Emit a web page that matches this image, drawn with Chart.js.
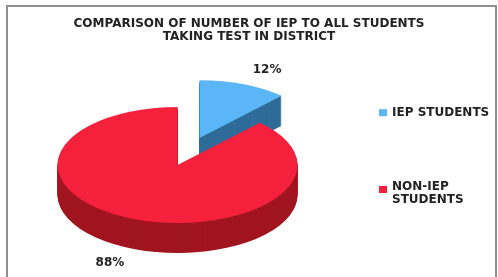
<!DOCTYPE html>
<html><head><meta charset="utf-8">
<script src="https://cdn.jsdelivr.net/npm/chart.js@4/dist/chart.umd.min.js"></script>
<style>html,body{margin:0;padding:0;background:#fff}canvas{display:block}</style>
</head><body>
<canvas id="c" width="498" height="277"></canvas>
<script>
const categories = ['IEP STUDENTS', 'NON-IEP STUDENTS'];
const shares = [12, 88];
const valueLabels = ['12%', '88%'];
const titleLines = ['COMPARISON OF NUMBER OF IEP TO ALL STUDENTS', 'TAKING TEST IN DISTRICT'];
const topColors = ['#5ab6f6', '#f5213c'];
const sideColors = ['#2f6c99', '#a11520'];
const explodeOffsets = [182, 0];

const FONT = "'DejaVu Sans', Verdana, sans-serif";
const TILT = 0.483, DEPTH = 30;

function explodeShift(arc) {
  const off = (arc.options.offset || 0) / 4;
  const circ = arc.endAngle - arc.startAngle;
  const d = off * (2 - Math.sin(Math.min(Math.PI, circ)));
  const h = (arc.startAngle + arc.endAngle) / 2;
  return {dx: Math.cos(h) * d, dy: Math.sin(h) * d, h};
}
function slicePath(ctx, arc, s) {
  ctx.beginPath();
  ctx.moveTo(arc.x + s.dx, arc.y + s.dy);
  ctx.arc(arc.x + s.dx, arc.y + s.dy, arc.outerRadius, arc.startAngle, arc.endAngle);
  ctx.closePath();
}
function tilt(ctx, arc, yShift) {
  ctx.translate(0, yShift);
  ctx.translate(arc.x, arc.y);
  ctx.scale(1, TILT);
  ctx.translate(-arc.x, -arc.y);
}

const pie3d = {
  id: 'pie3d',
  beforeDraw(chart) {
    const ctx = chart.ctx;
    ctx.save();
    ctx.fillStyle = '#ffffff';
    ctx.fillRect(0, 0, chart.width, chart.height);
    ctx.strokeStyle = '#8f8f8f';
    ctx.lineWidth = 2;
    ctx.strokeRect(7, 6, chart.width - 9, chart.height + 20);
    // title
    ctx.font = 'bold 12px ' + FONT;
    ctx.fillStyle = '#222';
    ctx.textAlign = 'center';
    ctx.textBaseline = 'middle';
    titleLines.forEach((t, k) => ctx.fillText(t, chart.width / 2, 23.7 + k * 13.5));
    ctx.restore();
  },
  beforeDatasetsDraw(chart) {
    const ctx = chart.ctx;
    const meta = chart.getDatasetMeta(0);
    const items = meta.data.map((arc, i) => ({arc, i, s: explodeShift(arc)}));
    items.sort((a, b) => Math.sin(a.s.h) - Math.sin(b.s.h));
    items.forEach(({arc, i, s}) => {
      for (let d = DEPTH; d >= 1; d--) {
        ctx.save(); tilt(ctx, arc, d); slicePath(ctx, arc, s);
        ctx.fillStyle = sideColors[i]; ctx.fill(); ctx.restore();
      }
      ctx.save(); tilt(ctx, arc, 0); slicePath(ctx, arc, s);
      ctx.fillStyle = arc.options.backgroundColor; ctx.fill(); ctx.restore();
    });
    ctx.save();
    ctx.font = 'bold 12px ' + FONT;
    ctx.fillStyle = '#222';
    ctx.textAlign = 'center';
    ctx.textBaseline = 'middle';
    items.forEach(({arc, i, s}) => {
      const R = arc.outerRadius;
      const x = arc.x + s.dx + Math.cos(s.h) * R * 1.53;
      const y = arc.y + (s.dy + Math.sin(s.h) * R * 1.265) * TILT + (Math.sin(s.h) > 0 ? DEPTH : 0);
      ctx.fillText(valueLabels[i], x, y);
    });
    ctx.restore();
    return false;
  },
  afterDraw(chart) {
    const ctx = chart.ctx;
    const ds = chart.data.datasets[0];
    ctx.save();
    ctx.font = 'bold 12px ' + FONT;
    ctx.textBaseline = 'middle';
    ctx.textAlign = 'left';
    const left = chart.width - 119, maxW = 100, lh = 12.5;
    let y = 112.7;
    chart.data.labels.forEach((lab, i) => {
      const words = lab.split(' ');
      const lines = [];
      let cur = '';
      words.forEach(w => {
        const t = cur ? cur + ' ' + w : w;
        if (ctx.measureText(t).width > maxW && cur) { lines.push(cur); cur = w; } else cur = t;
      });
      lines.push(cur);
      ctx.fillStyle = ds.backgroundColor[i];
      ctx.fillRect(left, y - 3.5 + (lines.length > 1 ? 2.5 : 0), 8, 7);
      ctx.fillStyle = '#222';
      lines.forEach((ln, k) => ctx.fillText(ln, left + 13, y + k * lh));
      y += 74.3;
    });
    ctx.restore();
  }
};

new Chart(document.getElementById('c'), {
  type: 'pie',
  data: {
    labels: categories,
    datasets: [{
      data: shares,
      backgroundColor: topColors,
      borderWidth: 0,
      offset: explodeOffsets,
      radius: 120
    }]
  },
  options: {
    responsive: false,
    animation: false,
    events: [],
    layout: {padding: {left: 20, right: 163, top: 53, bottom: 0}},
    plugins: {
      legend: {display: false},
      tooltip: {enabled: false},
      title: {display: false}
    }
  },
  plugins: [pie3d]
});
</script>
</body></html>
